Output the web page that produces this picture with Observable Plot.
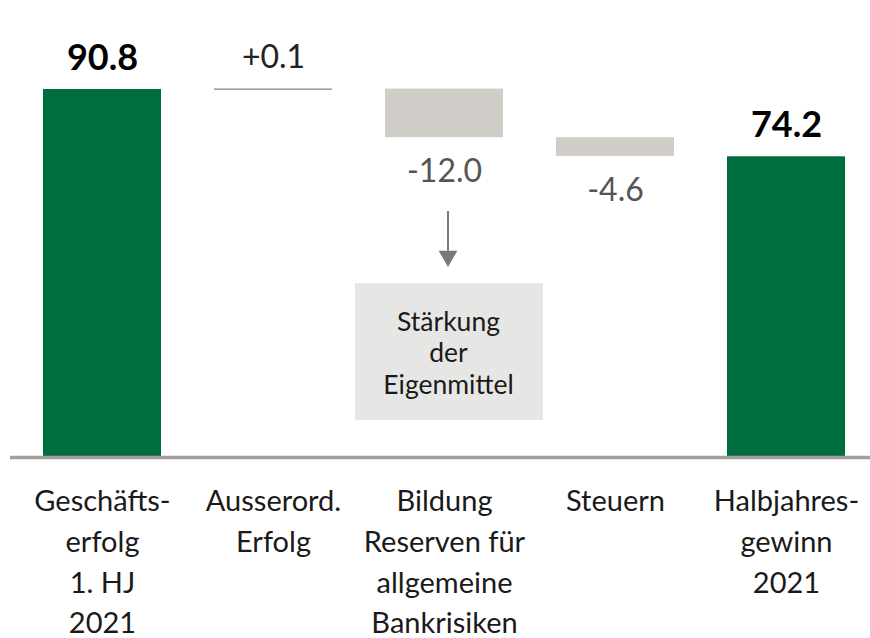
<!DOCTYPE html>
<html>
<head>
<meta charset="utf-8">
<script src="https://cdn.jsdelivr.net/npm/d3@7"></script>
<script src="https://cdn.jsdelivr.net/npm/@observablehq/plot@0.6"></script>
<style>
  body { margin: 0; background: #fff; }
  svg { font-family: Lato, "Open Sans", sans-serif; }
</style>
</head>
<body>
<div id="chart"></div>
<script>
const categories = ["Geschäftserfolg", "Ausserord", "Bildung", "Steuern", "Halbjahresgewinn"];
const tickLabels = [
  "Geschäfts-\nerfolg\n1. HJ\n2021",
  "Ausserord.\nErfolg",
  "Bildung\nReserven für\nallgemeine\nBankrisiken",
  "Steuern",
  "Halbjahres-\ngewinn\n2021"
];
const values = [90.8, 0.1, -12.0, -4.6, 74.2];
const kinds = ["total", "delta", "delta", "delta", "total"];
const valueLabels = ["90.8", "+0.1", "-12.0", "-4.6", "74.2"];
const noteCategory = "Bildung";
const noteText = "Stärkung\nder\nEigenmittel";
const noteRange = [9.1, 42.9];
const arrowRange = [60.7, 47.9];

// build waterfall table
let running = 0;
const rows = categories.map((c, i) => {
  let y1, y2;
  if (kinds[i] === "total") { y1 = 0; y2 = values[i]; running = values[i]; }
  else { y1 = running; y2 = running + values[i]; running = y2; }
  return {cat: c, label: tickLabels[i], vlabel: valueLabels[i], kind: kinds[i], value: values[i],
          y1, y2, top: Math.max(y1, y2), bottom: Math.min(y1, y2)};
});
const totals = rows.filter(d => d.kind === "total");
const negs = rows.filter(d => d.kind === "delta" && d.value < 0);
const pos = rows.filter(d => d.kind === "delta" && d.value >= 0);

const chart = Plot.plot({
  width: 870,
  height: 638,
  marginLeft: 10,
  marginRight: 0,
  marginTop: 0,
  marginBottom: 0,
  x: {domain: categories, range: [15.4, 871.6], paddingInner: 0.31, paddingOuter: 0.155, axis: null},
  y: {domain: [0, 90.8], range: [457, 89], axis: null},
  marks: [
    Plot.rectY(totals, {x: "cat", y1: "y1", y2: "y2", fill: "#006d3f"}),
    Plot.rectY(negs, {x: "cat", y1: "y1", y2: "y2", fill: "#d0cdc9"}),
    Plot.tickY(pos, {x: "cat", y: "y2", stroke: "#8a8580", strokeWidth: 1.2}),
    Plot.text(totals, {x: "cat", y: "top", text: "vlabel", dy: -31, fontSize: 36, fontWeight: "bold", fill: "#000"}),
    Plot.text(pos, {x: "cat", y: "top", text: "vlabel", dy: -31, fontSize: 32, fill: "#222"}),
    Plot.text(negs, {x: "cat", y: "bottom", text: "vlabel", dy: 34, fontSize: 32, fill: "#555"}),
    // annotation
    Plot.rectY([noteCategory], {x: d => d, y1: noteRange[0], y2: noteRange[1], fill: "#e6e7e5", insetLeft: -30, insetRight: -40}),
    Plot.text([noteCategory], {x: d => d, y: (noteRange[0] + noteRange[1]) / 2, text: () => noteText, dx: 4, fontSize: 26.5, lineHeight: 1.2, fill: "#1a1a1a"}),
    Plot.ruleX([noteCategory], {x: d => d, y1: arrowRange[0], y2: arrowRange[1] + 3, dx: 3.5, stroke: "#7f7873", strokeWidth: 2}),
    Plot.dot([noteCategory], {x: d => d, y: arrowRange[1] + 1.8, dx: 3.5, symbol: "triangle", r: 7, rotate: 180, fill: "#7f7873", stroke: null}),
    // baseline
    Plot.ruleY([0], {stroke: "#a39e99", strokeWidth: 3.5}),
    // category labels
    Plot.text(rows, {x: "cat", y: 0, text: "label", dy: 25, lineAnchor: "top", fontSize: 29, lineHeight: 1.4, fill: "#1a1a1a"})
  ]
});
document.getElementById("chart").appendChild(chart);
</script>
</body>
</html>
